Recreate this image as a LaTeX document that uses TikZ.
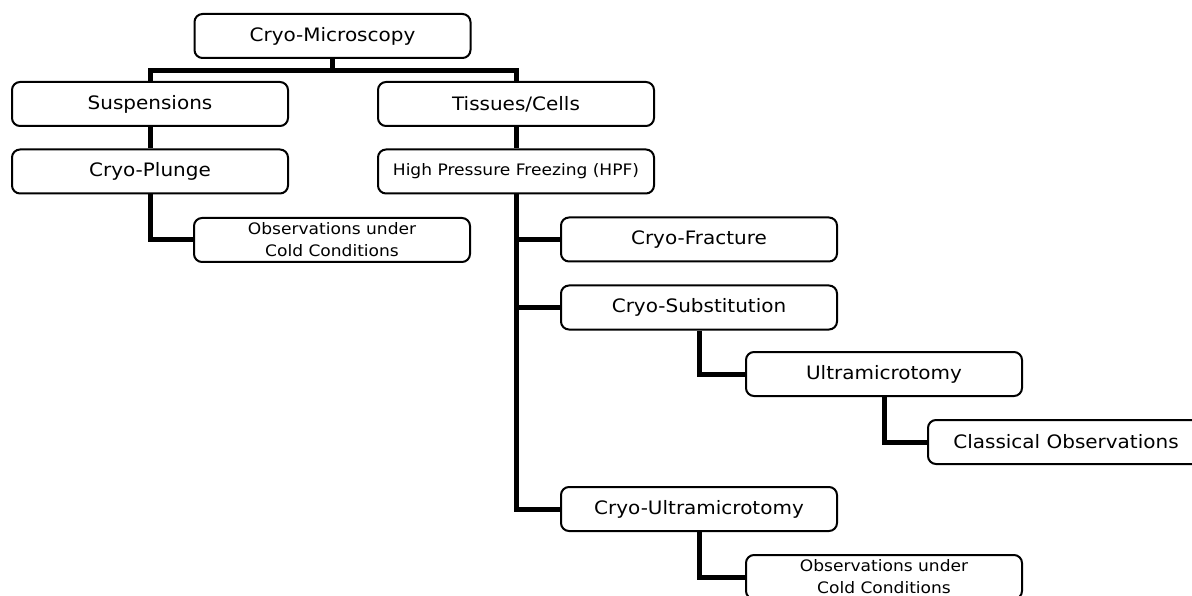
\documentclass[tikz,border=0pt]{standalone}
\usepackage{fontspec}
\setmainfont{DejaVu Sans}[FakeStretch=1.08]
\usetikzlibrary{calc}
\begin{document}
\begin{tikzpicture}[x=1pt,y=1pt,
  box/.style={draw=black, line width=2pt, rounded corners=8pt, fill=white,
    minimum width=276pt, minimum height=44pt, inner sep=0pt, align=center,
    font=\fontsize{18.5}{22}\selectfont},
  smallbox/.style={box, font=\fontsize{15.8}{22}\selectfont},
  conn/.style={line width=5pt, line join=miter, line cap=butt}]
\useasboundingbox (0,0) rectangle (1192,-596);
\begin{scope}
\clip (0,0) rectangle (1192,-596);
\fill[white] (0,0) rectangle (1192,-596);
\node[box] (cm) at (332.5,-36) {Cryo-Microscopy};
\node[box] (sus) at (150,-104) {Suspensions};
\node[box] (tis) at (516,-104) {Tissues/Cells};
\node[box] (plunge) at (150,-171.5) {Cryo-Plunge};
\node[smallbox] (hpf) at (516,-171.5) {High Pressure Freezing (HPF)};
\node[smallbox] (obsa) at (332,-240) {Observations under\\Cold Conditions};
\node[box] (frac) at (699,-239.5) {Cryo-Fracture};
\node[box] (subst) at (699,-307.5) {Cryo-Substitution};
\node[box] (ultra) at (884,-374) {Ultramicrotomy};
\node[box] (class) at (1066,-442) {Classical Observations};
\node[box] (cultra) at (699,-509) {Cryo-Ultramicrotomy};
\node[smallbox] (obsb) at (884,-577) {Observations under\\Cold Conditions};
\coordinate (bar) at ($(cm.south)+(0,-12)$);
\draw[conn] (cm.south) -- (bar);
\draw[conn] (sus.north) |- (bar) -| (tis.north);
\draw[conn] (sus.south) -- (plunge.north);
\draw[conn] (tis.south) -- (hpf.north);
\draw[conn] (plunge.south) |- (obsa.west);
\draw[conn] (hpf.south) |- (cultra.west);
\draw[conn] (hpf.south |- frac.west) -- (frac.west);
\draw[conn] (hpf.south |- subst.west) -- (subst.west);
\draw[conn] (subst.south) |- (ultra.west);
\draw[conn] (ultra.south) |- (class.west);
\draw[conn] (cultra.south) |- (obsb.west);
\end{scope}
\end{tikzpicture}
\end{document}
